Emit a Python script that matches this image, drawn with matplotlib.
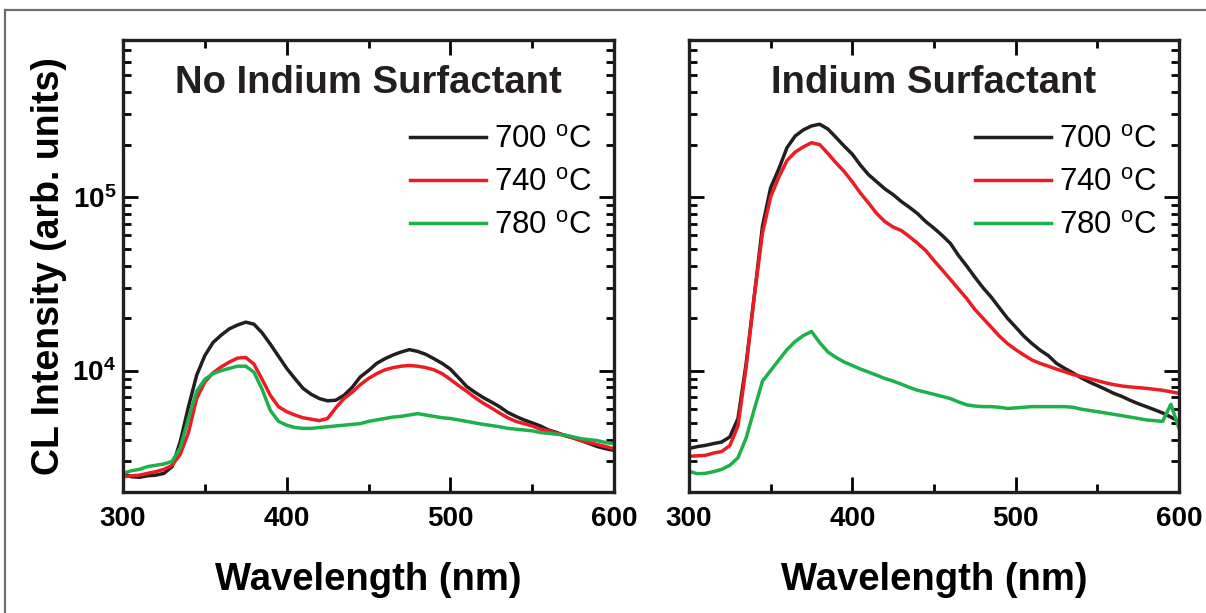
import matplotlib
matplotlib.use("Agg")
import matplotlib.pyplot as plt
from matplotlib.lines import Line2D
from matplotlib.ticker import FixedLocator, LogLocator, NullFormatter, FuncFormatter
import numpy as np

plt.rcParams["font.family"] = ["Liberation Sans", "DejaVu Sans"]
plt.rcParams["mathtext.fontset"] = "custom"
plt.rcParams["mathtext.rm"] = "Liberation Sans"
plt.rcParams["mathtext.bf"] = "Liberation Sans:bold"

# wavelength grid (nm), 5 nm steps
wavelength = list(range(300, 601, 5))

temps = ["700", "740", "780"]
colors = ["#231F20", "#ED1C24", "#1DB04B"]

# --- No Indium Surfactant (left panel) ---
no_in_700 = [2560, 2450, 2430, 2480, 2500, 2560, 2800, 3900, 6200, 9400,
             12200, 14500, 16000, 17400, 18300, 19000, 18500, 16500, 14200, 12100,
             10300, 9000, 7900, 7300, 6900, 6700, 6750, 7200, 8000, 9200,
             10000, 11000, 11700, 12300, 12800, 13200, 12900, 12400, 11700, 11000,
             10200, 9100, 8100, 7500, 7000, 6600, 6200, 5750, 5450, 5200,
             5000, 4800, 4550, 4400, 4220, 4100, 3950, 3800, 3650, 3550, 3470]
no_in_740 = [2450, 2480, 2500, 2560, 2620, 2700, 2850, 3300, 4400, 6900,
             8600, 9700, 10500, 11200, 11800, 11900, 10900, 8900, 7200, 6200,
             5800, 5550, 5350, 5250, 5150, 5300, 6100, 6900, 7500, 8300,
             9000, 9600, 10100, 10400, 10600, 10700, 10600, 10400, 10100, 9600,
             8900, 8200, 7600, 7000, 6500, 6100, 5700, 5350, 5100, 4950,
             4800, 4600, 4500, 4350, 4250, 4100, 3950, 3850, 3750, 3650, 3550]
no_in_780 = [2560, 2650, 2700, 2800, 2850, 2900, 3000, 3600, 5300, 7600,
             8900, 9600, 10000, 10300, 10600, 10600, 9800, 7800, 5900, 5100,
             4850, 4700, 4650, 4650, 4700, 4750, 4800, 4850, 4900, 4950,
             5100, 5200, 5300, 5400, 5450, 5550, 5650, 5550, 5450, 5350,
             5300, 5200, 5100, 5000, 4900, 4830, 4750, 4650, 4600, 4550,
             4500, 4400, 4350, 4300, 4250, 4150, 4050, 4000, 3950, 3850, 3800]

# --- Indium Surfactant (right panel) ---
in_700 = [3560, 3650, 3710, 3800, 3880, 4150, 5300, 11000, 27000, 68000,
          113000, 145000, 192000, 224000, 243000, 256000, 262000, 246000, 220000, 196000,
          176000, 152000, 134000, 122000, 111000, 103000, 94000, 87000, 80000, 72000,
          66000, 60000, 54000, 46000, 40000, 34500, 30000, 26500, 23000, 20000,
          17800, 15800, 14300, 13100, 12200, 11000, 10300, 9700, 9100, 8600,
          8200, 7800, 7400, 7100, 6750, 6450, 6200, 5950, 5700, 5400, 5100]
in_740 = [3210, 3230, 3250, 3350, 3420, 3700, 4800, 10500, 27000, 62000,
          100000, 130000, 162000, 181000, 194000, 205000, 200000, 178000, 157000, 140000,
          122000, 105000, 92000, 80000, 72000, 67000, 64000, 59000, 54000, 49000,
          43000, 38000, 33500, 29500, 26000, 22500, 20000, 17800, 15800, 14300,
          13200, 12300, 11500, 11000, 10600, 10200, 9850, 9500, 9250, 9000,
          8750, 8500, 8300, 8150, 8050, 7980, 7900, 7800, 7700, 7550, 7400]
in_780 = [2630, 2550, 2560, 2620, 2700, 2850, 3150, 4100, 6000, 8700,
          10000, 11500, 13200, 14700, 15900, 16800, 14500, 12800, 11900, 11200,
          10700, 10200, 9800, 9400, 9000, 8700, 8350, 8000, 7700, 7500,
          7300, 7100, 6900, 6600, 6350, 6250, 6200, 6200, 6150, 6050,
          6100, 6150, 6200, 6200, 6200, 6200, 6200, 6150, 6000, 5900,
          5800, 5700, 5600, 5500, 5400, 5300, 5200, 5150, 5100, 6400, 4650]

panels = [
    ("No Indium Surfactant", [no_in_700, no_in_740, no_in_780]),
    ("Indium Surfactant", [in_700, in_740, in_780]),
]

W, H = 1206, 613
fig = plt.figure(figsize=(W / 100, H / 100), dpi=100)

# outer grey frame (top and left edges)
fig.add_artist(Line2D([5 / W, 5 / W], [0, 1 - 10 / H], color="#6D6E71", lw=1.6))
fig.add_artist(Line2D([5 / W, 1], [1 - 10 / H, 1 - 10 / H], color="#6D6E71", lw=1.6))

axes_px = [(123, 614), (689, 1179)]
top_px, bot_px = 40, 492


def bold_log(v, pos):
    return r"$\mathbf{10^{%d}}$" % int(round(np.log10(v)))


for i, ((title, series), (x0, x1)) in enumerate(zip(panels, axes_px)):
    ax = fig.add_axes([x0 / W, 1 - bot_px / H, (x1 - x0) / W, (bot_px - top_px) / H])
    for vals, col, t in zip(series, colors, temps):
        ax.plot(wavelength, vals, color=col, lw=2.5, label=t + r" $^\mathregular{o}$C")
    ax.set_yscale("log")
    ax.set_xlim(300, 600)
    ax.set_ylim(2000, 8.0e5)

    ax.xaxis.set_major_locator(FixedLocator([300, 400, 500, 600]))
    ax.xaxis.set_minor_locator(FixedLocator([350, 450, 550]))
    ax.yaxis.set_major_locator(LogLocator(base=10))
    ax.yaxis.set_minor_locator(LogLocator(base=10, subs=np.arange(2, 10)))
    ax.yaxis.set_minor_formatter(NullFormatter())
    if i == 0:
        ax.yaxis.set_major_formatter(FuncFormatter(bold_log))
        ax.set_ylabel("CL Intensity (arb. units)", fontsize=27, fontweight="bold", labelpad=4)
    else:
        ax.yaxis.set_major_formatter(NullFormatter())

    ax.tick_params(which="both", direction="in", top=True, right=True, width=2.0)
    ax.tick_params(which="major", length=11, labelsize=20)
    ax.tick_params(which="minor", length=6)
    ax.tick_params(axis="x", pad=10)
    ax.tick_params(axis="y", pad=5)
    for lab in ax.get_xticklabels():
        lab.set_fontweight("bold")
    for sp in ax.spines.values():
        sp.set_linewidth(2.4)
        sp.set_color("#231F20")

    ax.set_xlabel("Wavelength (nm)", fontsize=27.5, fontweight="bold", labelpad=22)
    ax.text(0.5, 0.905, title, transform=ax.transAxes, ha="center", va="center",
            fontsize=27.5, fontweight="bold", color="#231F20")
    ax.legend(loc="upper right", bbox_to_anchor=(0.98, 0.84), frameon=False,
              fontsize=22.5, handlelength=2.45, handletextpad=0.25, labelspacing=0.42,
              borderaxespad=0)

fig.savefig("out.png", dpi=100)
